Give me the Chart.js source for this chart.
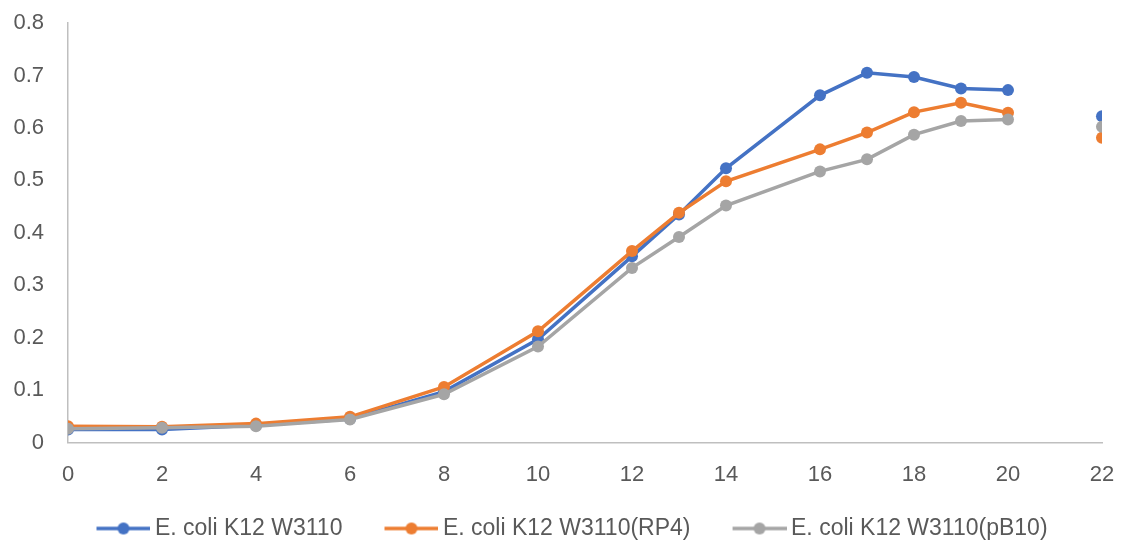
<!DOCTYPE html>
<html>
<head>
<meta charset="utf-8">
<script src="https://cdn.jsdelivr.net/npm/chart.js@4/dist/chart.umd.min.js"></script>
<style>
  html, body { margin: 0; padding: 0; background: #ffffff; }
  #wrap { width: 1122px; height: 544px; }
</style>
</head>
<body>
<div id="wrap"><canvas id="growth" width="1122" height="544"></canvas></div>
<script>
// Sampling times (h); 21 has no reading, so the line breaks before 22.
const hours = [0, 2, 4, 6, 8, 10, 12, 13, 14, 16, 17, 18, 19, 20, 21, 22];

// OD readings per strain
const w3110     = [0.025, 0.025, 0.033, 0.045, 0.097, 0.197, 0.355, 0.435, 0.523, 0.662, 0.705, 0.697, 0.675, 0.672, null, 0.622];
const w3110RP4  = [0.031, 0.030, 0.036, 0.049, 0.106, 0.212, 0.365, 0.438, 0.498, 0.559, 0.591, 0.630, 0.648, 0.629, null, 0.581];
const w3110pB10 = [0.026, 0.028, 0.031, 0.044, 0.092, 0.183, 0.333, 0.392, 0.452, 0.517, 0.540, 0.587, 0.613, 0.616, null, 0.602];

const seriesNames  = ['E. coli K12 W3110', 'E. coli K12 W3110(RP4)', 'E. coli K12 W3110(pB10)'];
const seriesValues = [w3110, w3110RP4, w3110pB10];
const seriesColors = ['#4472C4', '#ED7D31', '#A5A5A5'];

// Axis ranges and tick spacing
const xRange = [0, 22], xStep = 2;
const yRange = [0, 0.8], yStep = 0.1;

const TICK_FONT = { family: '"Liberation Sans", Arial, sans-serif', size: 22 };
const LEGEND_FONT = { family: '"Liberation Sans", Arial, sans-serif', size: 23 };
const TEXT_COLOR = '#595959';
const AXIS_COLOR = '#BFBFBF';
const LINE_W = 3.5, DOT_R = 6;

// Legend swatch: a short line with a marker, sitting at the right end of
// a wider transparent strip so the swatch hugs its label text.
const SWATCH_W = 103, SWATCH_H = 14, SWATCH_LINE = 54;
function swatch(color) {
  const c = document.createElement('canvas');
  c.width = SWATCH_W; c.height = SWATCH_H;
  const g = c.getContext('2d');
  const x0 = SWATCH_W - SWATCH_LINE, mid = SWATCH_H / 2;
  g.strokeStyle = color; g.lineWidth = LINE_W;
  g.beginPath(); g.moveTo(x0, mid); g.lineTo(SWATCH_W, mid); g.stroke();
  g.fillStyle = color;
  g.beginPath(); g.arc(x0 + SWATCH_LINE / 2, mid, DOT_R, 0, Math.PI * 2); g.fill();
  return c;
}
const swatches = seriesColors.map(swatch);

const datasets = seriesNames.map((name, i) => ({
  label: name,
  data: hours.map((h, k) => ({ x: h, y: seriesValues[i][k] })),
  borderColor: seriesColors[i],
  backgroundColor: seriesColors[i],
  borderWidth: LINE_W,
  pointRadius: DOT_R,
  pointHoverRadius: DOT_R,
  pointBorderWidth: 0,
  tension: 0,
  spanGaps: false,
  order: seriesNames.length - i
}));

const hiddenGrid = { display: true, drawOnChartArea: false, drawTicks: false, color: 'rgba(0,0,0,0)' };

new Chart(document.getElementById('growth'), {
  type: 'line',
  data: { datasets },
  options: {
    responsive: false,
    animation: false,
    layout: { padding: { left: 0, right: 20, top: 23, bottom: -6 } },
    scales: {
      x: {
        type: 'linear',
        min: xRange[0], max: xRange[1],
        afterFit(axis) {
          axis.height = 74.5;
          axis.paddingLeft = 0;
          axis.paddingRight = 0;
        },
        grid: hiddenGrid,
        border: { display: true, color: AXIS_COLOR, width: 1.5 },
        ticks: { stepSize: xStep, color: TEXT_COLOR, font: TICK_FONT, padding: 19, maxRotation: 0, autoSkip: false }
      },
      y: {
        type: 'linear',
        min: yRange[0], max: yRange[1],
        afterFit(axis) {
          axis.width = 68;
          axis.paddingTop = 0;
          axis.paddingBottom = 0;
        },
        grid: hiddenGrid,
        border: { display: true, color: AXIS_COLOR, width: 1.5 },
        ticks: {
          stepSize: yStep, color: TEXT_COLOR, font: TICK_FONT, padding: 24,
          callback: v => (Math.abs(v) < 1e-9 ? '0' : Number(v).toFixed(1))
        }
      }
    },
    plugins: {
      tooltip: { enabled: false },
      legend: {
        position: 'bottom',
        labels: {
          color: TEXT_COLOR,
          font: LEGEND_FONT,
          usePointStyle: true,
          pointStyleWidth: 89,
          padding: 0,
          sort: (a, b) => a.datasetIndex - b.datasetIndex,
          generateLabels(chart) {
            const items = Chart.defaults.plugins.legend.labels.generateLabels(chart);
            return items.map(it => Object.assign(it, { pointStyle: swatches[it.datasetIndex] }));
          }
        }
      }
    }
  }
});
</script>
</body>
</html>
